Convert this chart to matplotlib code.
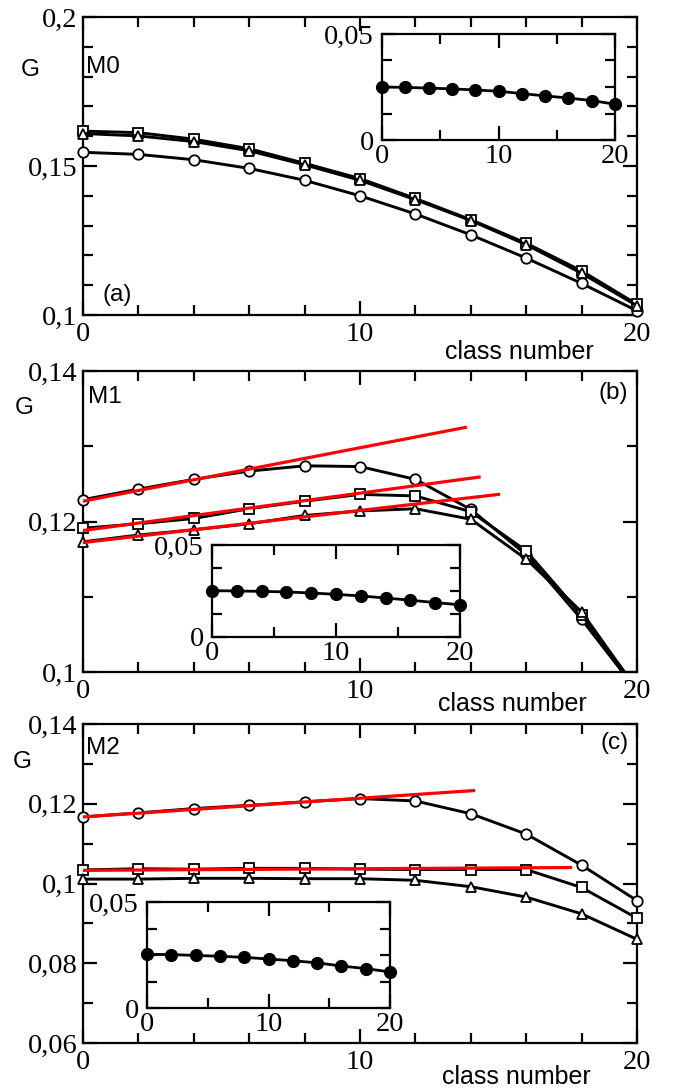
import matplotlib
matplotlib.use("Agg")
import matplotlib.pyplot as plt
from matplotlib.ticker import FixedLocator, MultipleLocator, FixedFormatter
from matplotlib.patches import Rectangle

# ---------------- data ----------------
classes = [0, 2, 4, 6, 8, 10, 12, 14, 16, 18, 20]

# panel (a) M0
a_circ = [0.1546, 0.1539, 0.1521, 0.1492, 0.1452, 0.1400, 0.1339, 0.1269, 0.1191, 0.1106, 0.1014]
a_sq   = [0.1617, 0.1612, 0.1590, 0.1558, 0.1509, 0.1458, 0.1391, 0.1320, 0.1241, 0.1148, 0.1036]
a_tri  = [0.1609, 0.1601, 0.1582, 0.1551, 0.1504, 0.1452, 0.1387, 0.1317, 0.1236, 0.1140, 0.1031]
a_ins  = [0.0250, 0.0248, 0.0245, 0.0241, 0.0236, 0.0230, 0.0219, 0.0208, 0.0198, 0.0186, 0.0169]

# panel (b) M1
b_circ = [0.1229, 0.1243, 0.1256, 0.1267, 0.1274, 0.1273, 0.1256, 0.1216, 0.1156, 0.1070, 0.0975]
b_sq   = [0.1191, 0.1197, 0.1204, 0.1217, 0.1227, 0.1236, 0.1234, 0.1213, 0.1161, 0.1076, 0.0978]
b_tri  = [0.1173, 0.1182, 0.1189, 0.1197, 0.1208, 0.1214, 0.1217, 0.1203, 0.1150, 0.1080, 0.0976]
b_ins  = [0.0252, 0.0250, 0.0248, 0.0245, 0.0239, 0.0232, 0.0223, 0.0212, 0.0200, 0.0187, 0.0175]
b_fit_x0 = [0, 0, 0]
b_fit_x1 = [13.8, 14.3, 15.0]
b_fit_y0 = [0.1227, 0.1188, 0.1172]
b_fit_y1 = [0.1325, 0.1259, 0.1236]

# panel (c) M2
c_circ = [0.1167, 0.1177, 0.1188, 0.1196, 0.1205, 0.1213, 0.1207, 0.1175, 0.1124, 0.1046, 0.0957]
c_sq   = [0.1034, 0.1037, 0.1036, 0.1038, 0.1038, 0.1036, 0.1035, 0.1035, 0.1035, 0.0990, 0.0913]
c_tri  = [0.1011, 0.1011, 0.1013, 0.1013, 0.1012, 0.1012, 0.1008, 0.0992, 0.0966, 0.0924, 0.0860]
c_ins  = [0.0253, 0.0252, 0.0248, 0.0244, 0.0239, 0.0231, 0.0223, 0.0213, 0.0198, 0.0186, 0.0170]
c_fit_x0 = [0, 0]
c_fit_x1 = [14.1, 17.6]
c_fit_y0 = [0.1167, 0.1033]
c_fit_y1 = [0.1233, 0.1040]

# ticks
x_major = [0, 10, 20]
x_labels = ["0", "10", "20"]
a_yticks = [0.1, 0.15, 0.2]
a_ylabels = ["0,1", "0,15", "0,2"]
b_yticks = [0.1, 0.12, 0.14]
b_ylabels = ["0,1", "0,12", "0,14"]
c_yticks = [0.06, 0.08, 0.1, 0.12, 0.14]
c_ylabels = ["0,06", "0,08", "0,1", "0,12", "0,14"]
ins_yticks = [0, 0.05]
ins_ylabels = ["0", "0,05"]

SERIF = "Liberation Serif"
SANS = "Liberation Sans"
TICKFS = 20.5

W, H = 676, 1091
fig = plt.figure(figsize=(W / 100, H / 100), dpi=100)


def px_rect(x0, y0, x1, y1):
    return [x0 / W, 1 - y1 / H, (x1 - x0) / W, (y1 - y0) / H]


def style_axes(ax, yt, yl, ymin, ymax, yminor, xminor, fs=TICKFS, lw=1.6):
    ax.set_xlim(0, 20)
    ax.set_ylim(ymin, ymax)
    ax.xaxis.set_major_locator(FixedLocator(x_major))
    ax.xaxis.set_major_formatter(FixedFormatter(x_labels))
    ax.xaxis.set_minor_locator(MultipleLocator(xminor))
    ax.yaxis.set_major_locator(FixedLocator(yt))
    ax.yaxis.set_major_formatter(FixedFormatter(yl))
    ax.yaxis.set_minor_locator(MultipleLocator(yminor))
    ax.tick_params(which="both", direction="in", top=True, right=True, width=lw)
    ax.tick_params(which="major", length=10)
    ax.tick_params(which="minor", length=7)
    ax.tick_params(axis="x", which="major", pad=5)
    ax.tick_params(axis="y", which="major", pad=4)
    for lab in ax.get_xticklabels() + ax.get_yticklabels():
        lab.set_fontfamily(SERIF)
        lab.set_fontsize(fs)
    for s in ax.spines.values():
        s.set_linewidth(lw)


def plot_main(ax, circ, sq, tri, clipbox=False):
    lines = []
    kw = dict(color="black", lw=2.1, mfc="white", mec="black", mew=1.3, zorder=3)
    lines += ax.plot(classes, circ, marker="o", ms=7.5, **kw)
    lines += ax.plot(classes, sq, marker="s", ms=6.5, **kw)
    lines += ax.plot(classes, tri, marker="^", ms=7.5, **kw)
    for ln in lines:
        if clipbox:
            r = Rectangle((-0.05, 0), 1.1, 1.1, transform=ax.transAxes)
            ln.set_clip_path(r)
        else:
            ln.set_clip_on(False)


def plot_inset(rect, vals):
    ax = fig.add_axes(rect)
    ax.set_facecolor("white")
    ax.set_zorder(5)
    ax.plot(classes, vals, color="black", lw=2.0, marker="o", ms=8.5, mfc="black",
            clip_on=False, zorder=3)
    style_axes(ax, ins_yticks, ins_ylabels, 0, 0.05, 0.0125, 5)
    ax.tick_params(axis="y", which="major", pad=6)
    ax.tick_params(axis="x", which="major", pad=3)
    return ax


# ---------------- panel (a) ----------------
ax_a = fig.add_axes(px_rect(83, 17, 637, 315))
plot_main(ax_a, a_circ, a_sq, a_tri)
style_axes(ax_a, a_yticks, a_ylabels, 0.1, 0.2, 0.01, 2)
plot_inset(px_rect(382, 34, 615, 140), a_ins)

# ---------------- panel (b) ----------------
ax_b = fig.add_axes(px_rect(83, 371, 637, 672))
plot_main(ax_b, b_circ, b_sq, b_tri, clipbox=True)
for x0, x1, y0, y1 in zip(b_fit_x0, b_fit_x1, b_fit_y0, b_fit_y1):
    ax_b.plot([x0, x1], [y0, y1], color="#ff0000", lw=2.3, zorder=4)
style_axes(ax_b, b_yticks, b_ylabels, 0.1, 0.14, 0.01, 2)
plot_inset(px_rect(212, 545, 460, 637), b_ins)

# ---------------- panel (c) ----------------
ax_c = fig.add_axes(px_rect(83, 724, 637, 1043))
plot_main(ax_c, c_circ, c_sq, c_tri)
for x0, x1, y0, y1 in zip(c_fit_x0, c_fit_x1, c_fit_y0, c_fit_y1):
    ax_c.plot([x0, x1], [y0, y1], color="#ff0000", lw=2.3, zorder=4)
style_axes(ax_c, c_yticks, c_ylabels, 0.06, 0.14, 0.01, 2)
plot_inset(px_rect(147, 902, 390, 1008), c_ins)

# ---------------- texts ----------------
LFS = 17.5
CFS = 18


def ftext(x, y, s, fs, ha="center", va="center"):
    fig.text(x / W, 1 - y / H, s, fontsize=fs, family=SANS, ha=ha, va=va)


ftext(30, 70, "G", LFS)
ftext(24, 408, "G", LFS)
ftext(22, 762, "G", LFS)
ftext(86, 67, "M0", LFS, ha="left")
ftext(88, 397, "M1", LFS, ha="left")
ftext(86, 748, "M2", LFS, ha="left")
ftext(103, 295, "(a)", LFS, ha="left")
ftext(628, 393, "(b)", LFS, ha="right")
ftext(629, 743, "(c)", LFS, ha="right")
ftext(519, 352, "class number", CFS)
ftext(512, 704, "class number", CFS)
ftext(516, 1077, "class number", CFS)

fig.savefig("out.png", dpi=100)
